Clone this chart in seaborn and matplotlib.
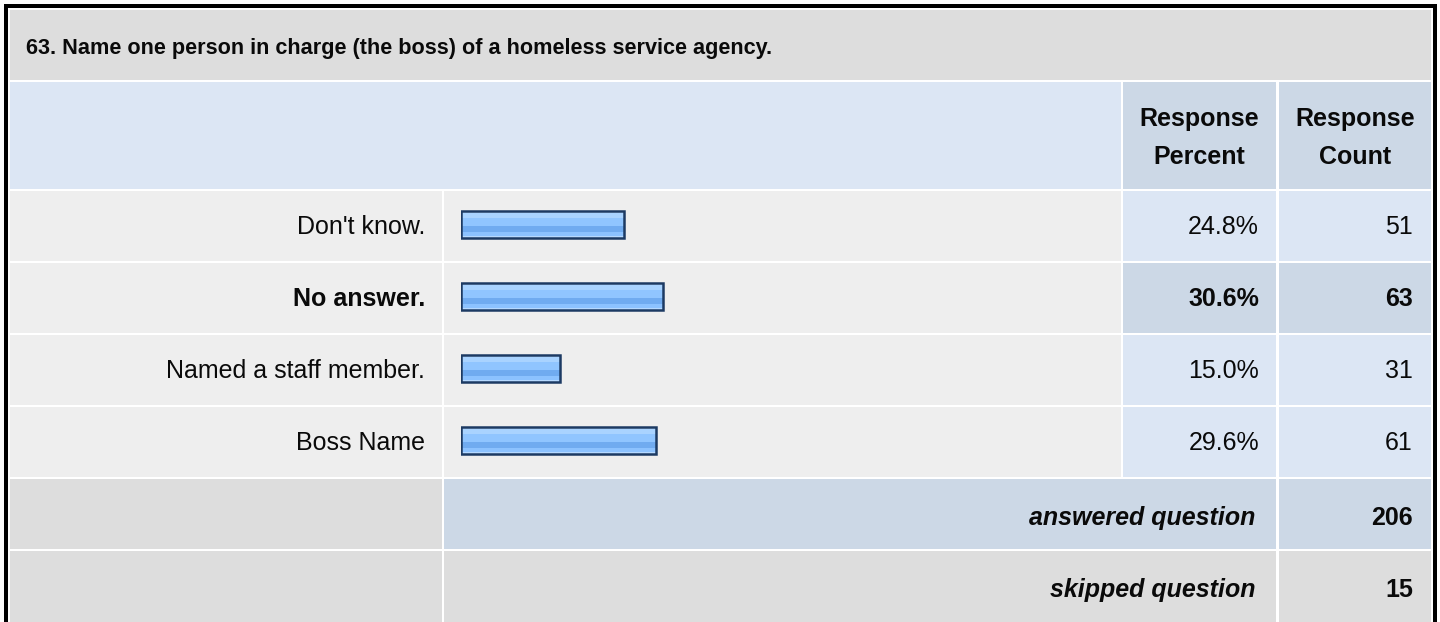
import numpy as np
import pandas as pd
import matplotlib
matplotlib.use("Agg")
import matplotlib.pyplot as plt
from matplotlib.patches import Rectangle
from matplotlib.colors import to_rgb
import seaborn as sns

# ---------------- data ----------------
title = "63. Name one person in charge (the boss) of a homeless service agency."
categories = ["Don't know.", "No answer.", "Named a staff member.", "Boss Name"]
percents = [24.8, 30.6, 15.0, 29.6]
counts = [51, 63, 31, 61]
bold_rows = [False, True, False, False]
header_cols = ["Response\nPercent", "Response\nCount"]
answered_label = "answered question"
answered_count = 206
skipped_label = "skipped question"
skipped_count = 15

# ---------------- style ----------------
sns.set_style("white")
plt.rcParams["font.family"] = ["Liberation Sans", "DejaVu Sans"]

W, H = 1440, 622
fig = plt.figure(figsize=(W / 100, H / 100), dpi=100)
fig.patch.set_facecolor("white")

bg = fig.add_axes([0, 0, 1, 1])
bg.set_xlim(0, W)
bg.set_ylim(H, 0)
bg.axis("off")

C_TITLE = "#DDDDDD"
C_HEAD = "#DCE6F4"
C_HEAD2 = "#CCD8E6"
C_ROW = "#EEEEEE"
C_VAL = "#DCE6F4"
C_VALB = "#CCD8E6"
TXT = "#0A0A0A"
FS = 18.0
FS_TITLE = 15.6


def cell(x0, x1, y0, y1, color):
    bg.add_patch(Rectangle((x0, y0), x1 - x0, y1 - y0, facecolor=color,
                           edgecolor="none", lw=0, zorder=0))


# column & row boundaries (pixels)
X0, X1a, X1b, X2a, X2b, X3a, X3b = 10, 442, 444, 1121, 1123, 1276, 1279
XEND = 1431
row_tops = [191, 263, 335, 407]
ROW_H = 70

# frame
bg.add_patch(Rectangle((4, 4), 1433, 4, facecolor="black", lw=0, zorder=5))
bg.add_patch(Rectangle((4, 4), 4, H, facecolor="black", lw=0, zorder=5))
bg.add_patch(Rectangle((1433, 4), 4, H, facecolor="black", lw=0, zorder=5))

# title row
cell(X0, XEND, 10, 80, C_TITLE)
bg.text(26, 46, title, fontsize=FS_TITLE, fontweight="bold", ha="left",
        va="center_baseline", color=TXT)

# header row
cell(X0, X2a, 82, 189, C_HEAD)
cell(X2b, X3a, 82, 189, C_HEAD2)
cell(X3b, XEND, 82, 189, C_HEAD2)
for cx, lab in zip([(X2b + X3a) / 2, (X3b + XEND) / 2], header_cols):
    l1, l2 = lab.split("\n")
    bg.text(cx, 126, l1, fontsize=FS, fontweight="bold", ha="center",
            va="baseline", color=TXT)
    bg.text(cx, 164, l2, fontsize=FS, fontweight="bold", ha="center",
            va="baseline", color=TXT)

# data rows
for i, (cat, p, n, b) in enumerate(zip(categories, percents, counts, bold_rows)):
    y0 = row_tops[i]
    y1 = y0 + ROW_H
    vc = C_VALB if b else C_VAL
    cell(X0, X1a, y0, y1, C_ROW)
    cell(X1b, X2a, y0, y1, C_ROW)
    cell(X2b, X3a, y0, y1, vc)
    cell(X3b, XEND, y0, y1, vc)
    base = y0 + 43
    fw = "bold" if b else "normal"
    bg.text(425, base, cat, fontsize=FS, fontweight=fw, ha="right",
            va="baseline", color=TXT)
    bg.text(1259, base, f"{p:.1f}%", fontsize=FS, fontweight=fw, ha="right",
            va="baseline", color=TXT)
    bg.text(1413, base, f"{n}", fontsize=FS, fontweight=fw, ha="right",
            va="baseline", color=TXT)

# answered row
cell(X0, X1a, 479, 549, C_TITLE)
cell(X1b, X3a, 479, 549, C_HEAD2)
cell(X3b, XEND, 479, 549, C_HEAD2)
bg.text(1255, 525, answered_label, fontsize=FS, fontweight="bold",
        fontstyle="italic", ha="right", va="baseline", color=TXT)
bg.text(1413, 525, f"{answered_count}", fontsize=FS, fontweight="bold",
        ha="right", va="baseline", color=TXT)

# skipped row
cell(X0, X1a, 551, H, C_TITLE)
cell(X1b, X3a, 551, H, C_TITLE)
cell(X3b, XEND, 551, H, C_TITLE)
bg.text(1255, 597, skipped_label, fontsize=FS, fontweight="bold",
        fontstyle="italic", ha="right", va="baseline", color=TXT)
bg.text(1413, 597, f"{skipped_count}", fontsize=FS, fontweight="bold",
        ha="right", va="baseline", color=TXT)

# ---------------- bars (seaborn) ----------------
bx_left, bx_w = 461, 659
by_top, by_h = 188.5, 288
bax = fig.add_axes([bx_left / W, 1 - (by_top + by_h) / H, bx_w / W, by_h / H])
bax.patch.set_alpha(0)

df = pd.DataFrame({"category": categories, "percent": percents})
sns.barplot(data=df, x="percent", y="category", orient="h", ax=bax,
            width=0.37, color="#90C5FF", saturation=1,
            edgecolor="#1C3A63", linewidth=1.8)

# glossy gradient fill clipped to each bar
bands = [(0.00, "#C4E0FF"), (0.08, "#A9D3FF"), (0.25, "#90C5FF"),
         (0.55, "#70ABF0"), (0.76, "#8CC2FF"), (0.93, "#B6D9FF"), (1.0, None)]
N = 100
grad = np.zeros((N, 1, 3))
for k in range(len(bands) - 1):
    a, col = bands[k]
    bnd = bands[k + 1][0]
    grad[int(a * N):int(bnd * N), 0, :] = to_rgb(col)

for patch in list(bax.patches):
    x0, y0 = patch.get_x(), patch.get_y()
    w, h = patch.get_width(), patch.get_height()
    im = bax.imshow(grad, extent=(x0, x0 + w, y0 + h, y0), aspect="auto",
                    interpolation="nearest", zorder=1)
    im.set_clip_path(patch)
    patch.set_facecolor("none")
    patch.set_zorder(2)

bax.set_xlim(0, 100)
bax.set_ylim(3.5, -0.5)
bax.axis("off")

fig.savefig("out.png", dpi=100, facecolor="white")
